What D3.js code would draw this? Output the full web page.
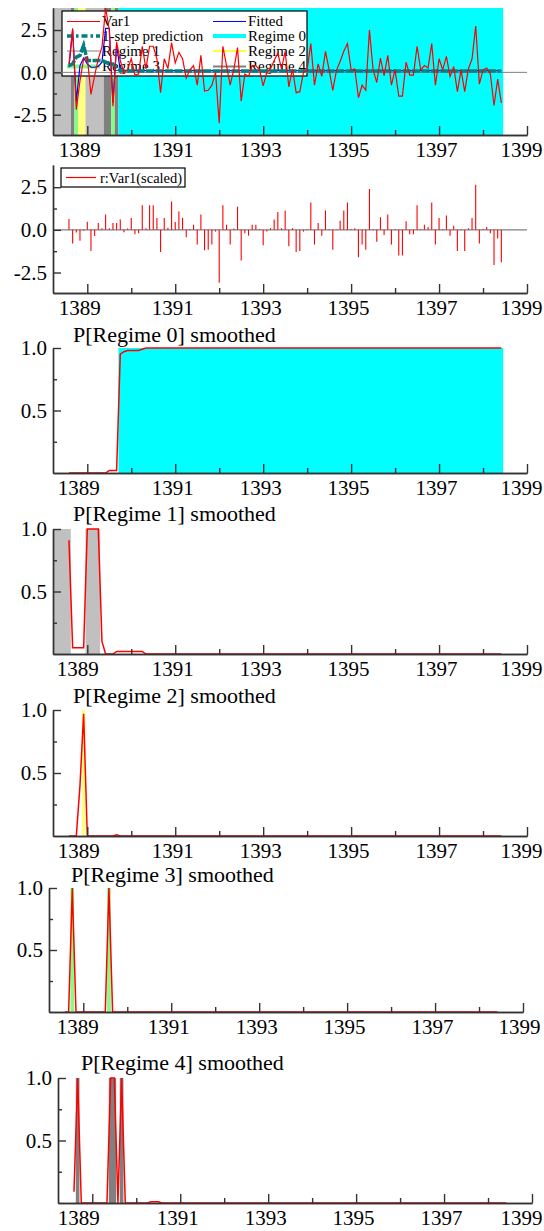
<!DOCTYPE html>
<html>
<head>
<meta charset="utf-8">
<script src="https://cdn.jsdelivr.net/npm/d3@7.9.0/dist/d3.min.js"></script>
<style>
  body { margin: 0; background: #fff; }
  svg { display: block; }
  text { font-family: "Liberation Serif", "Times New Roman", serif; fill: #000; }
  .axis text { font-size: 21px; font-family: "Liberation Serif", "Times New Roman", serif; }
  .axis path, .axis line { stroke: #333; stroke-width: 1.4; }
</style>
</head>
<body>
<svg id="chart" width="544" height="1231"></svg>
<script>
// monthly sample 1388(8) - 1398(6), one row per year
const firstYear = 1388;
const firstMonth = 8;

const var1 = [
  0.5, 2.6, -2.2, -0.5, 0.8,
  0.9, -1.3, -0.2, 0.8, 1.5, 3.8, 2.5, -2.0, 1.8, 0.7, -0.04, 0.18,
  0.8, -0.16, -0.1, 1.54, 0.2, 1.54, 1.54, 0.8, -1.2, 0.8, 0.22, 1.76,
  0.56, 1.18, 0.8, -0.34, 0.15, 0.4, -0.76, 1.0, -1.1, -1.06, -0.76, 0.0,
  -3.0, 1.54, 0.4, -0.76, 0.18, 1.46, -1.7, -0.1, -0.24, 0.4, 0.4, 0.15,
  -0.8, 0.0, 0.2, 0.7, 1.14, 0.2, 1.24, -0.86, 0.2, -1.2, -1.14, 0.0,
  0.15, 1.7, -0.76, 0.5, -0.24, 1.24, 0.15, -1.06, 0.12, 0.64, 1.24, 1.7,
  0.15, 0.2, -1.5, -0.76, -1.06, 2.5, 0.15, -0.6, 0.84, -0.2, 1.0, -0.76,
  0.15, -1.4, -1.4, 0.6, -0.16, -0.16, 1.54, 0.15, 0.4, 0.26, 1.7, -0.76,
  0.8, 0.15, 0.94, -0.24, 0.34, -1.14, 0.15, -1.14, 0.2, 0.8, 2.74, -0.7,
  0.15, 0.26, -0.1, -1.96, -0.4, -1.8
];

const fitted = [
  0.3, 2.5, -1.7, 0.4, 0.85,
  0.5, 0.3, 0.3, 0.35, 0.6, 2.6, 2.6, -1.8, 1.6, 0.1, 0.1, 0.1,
  0.1, 0.1, 0.1, 0.1, 0.1, 0.1, 0.1, 0.1, 0.1, 0.1, 0.1, 0.1,
  0.1, 0.1, 0.1, 0.1, 0.1, 0.1, 0.1, 0.1, 0.1, 0.1, 0.1, 0.1,
  0.1, 0.1, 0.1, 0.1, 0.1, 0.1, 0.1, 0.1, 0.1, 0.1, 0.1, 0.1,
  0.1, 0.1, 0.1, 0.1, 0.1, 0.1, 0.1, 0.1, 0.1, 0.1, 0.1, 0.1,
  0.1, 0.1, 0.1, 0.1, 0.1, 0.1, 0.1, 0.1, 0.1, 0.1, 0.1, 0.1,
  0.1, 0.1, 0.1, 0.1, 0.1, 0.1, 0.1, 0.1, 0.1, 0.1, 0.1, 0.1,
  0.1, 0.1, 0.1, 0.1, 0.1, 0.1, 0.1, 0.1, 0.1, 0.1, 0.1, 0.1,
  0.1, 0.1, 0.1, 0.1, 0.1, 0.1, 0.1, 0.1, 0.1, 0.1, 0.1, 0.1,
  0.1, 0.1, 0.1, 0.1, 0.1, 0.1
];

const prediction = [
  0.4, 0.5, 0.9, 1.0, 1.6,
  0.7, 0.7, 0.7, 0.7, 0.7, 0.6, 0.5, 0.5, 0.25, 0.1, 0.08, 0.08,
  0.08, 0.08, 0.08, 0.08, 0.08, 0.08, 0.08, 0.08, 0.08, 0.08, 0.08, 0.08,
  0.08, 0.08, 0.08, 0.08, 0.08, 0.08, 0.08, 0.08, 0.08, 0.08, 0.08, 0.08,
  0.08, 0.08, 0.08, 0.08, 0.08, 0.08, 0.08, 0.08, 0.08, 0.08, 0.08, 0.08,
  0.08, 0.08, 0.08, 0.08, 0.08, 0.08, 0.08, 0.08, 0.08, 0.08, 0.08, 0.08,
  0.08, 0.08, 0.08, 0.08, 0.08, 0.08, 0.08, 0.08, 0.08, 0.08, 0.08, 0.08,
  0.08, 0.08, 0.08, 0.08, 0.08, 0.08, 0.08, 0.08, 0.08, 0.08, 0.08, 0.08,
  0.08, 0.08, 0.08, 0.08, 0.08, 0.08, 0.08, 0.08, 0.08, 0.08, 0.08, 0.08,
  0.08, 0.08, 0.08, 0.08, 0.08, 0.08, 0.08, 0.08, 0.08, 0.08, 0.08, 0.08,
  0.08, 0.08, 0.08, 0.08, 0.08, 0.08
];

const residScaled = [
  0.64, -0.8, -0.15, -0.64, -0.05,
  0.48, -1.24, -0.36, 0.4, 0.1, 0.9, 0.1, 0.4, 0.4, 0.6, -0.14, 0.08,
  0.7, -0.26, -0.2, 1.44, 0.1, 1.44, 1.44, 0.7, -1.3, 0.7, 0.12, 1.66,
  0.46, 1.08, 0.7, -0.44, 0.05, 0.3, -0.86, 0.9, -1.2, -1.16, -0.86, -0.1,
  -3.1, 1.44, 0.3, -0.86, 0.08, 1.36, -1.8, -0.2, -0.34, 0.3, 0.3, 0.05,
  -0.9, -0.1, 0.1, 0.6, 1.04, 0.1, 1.14, -0.96, 0.1, -1.3, -1.24, -0.1,
  0.05, 1.6, -0.86, 0.4, -0.34, 1.14, 0.05, -1.16, 0.02, 0.54, 1.14, 1.6,
  0.05, 0.1, -1.6, -0.86, -1.16, 2.4, 0.05, -0.7, 0.74, -0.3, 0.9, -0.86,
  0.05, -1.5, -1.5, 0.5, -0.26, -0.26, 1.44, 0.05, 0.3, 0.16, 1.6, -0.86,
  0.7, 0.05, 0.84, -0.34, 0.24, -1.24, 0.05, -1.24, 0.1, 0.7, 2.64, -0.8,
  0.05, 0.16, -0.2, -2.06, -0.5, -1.9
];

// smoothed regime probabilities
const pRegime0 = [
  0, 0, 0, 0, 0,
  0, 0, 0, 0, 0, 0, 0.02, 0.02, 0.02, 0.95, 0.97, 0.98,
  0.98, 0.98, 0.98, 0.99, 1, 1, 1, 1, 1, 1, 1, 1,
  1, 1, 1, 1, 1, 1, 1, 1, 1, 1, 1, 1,
  1, 1, 1, 1, 1, 1, 1, 1, 1, 1, 1, 1,
  1, 1, 1, 1, 1, 1, 1, 1, 1, 1, 1, 1,
  1, 1, 1, 1, 1, 1, 1, 1, 1, 1, 1, 1,
  1, 1, 1, 1, 1, 1, 1, 1, 1, 1, 1, 1,
  1, 1, 1, 1, 1, 1, 1, 1, 1, 1, 1, 1,
  1, 1, 1, 1, 1, 1, 1, 1, 1, 1, 1, 1,
  1, 1, 1, 1, 1, 1
];
const pRegime1 = [
  0.91, 0.05, 0.05, 0.05, 0.05,
  1, 1, 1, 1, 0.1, 0, 0, 0, 0.02, 0.02, 0.02, 0.02,
  0.02, 0.02, 0.02, 0.02, 0, 0, 0, 0, 0, 0, 0, 0,
  0, 0, 0, 0, 0, 0, 0, 0, 0, 0, 0, 0,
  0, 0, 0, 0, 0, 0, 0, 0, 0, 0, 0, 0,
  0, 0, 0, 0, 0, 0, 0, 0, 0, 0, 0, 0,
  0, 0, 0, 0, 0, 0, 0, 0, 0, 0, 0, 0,
  0, 0, 0, 0, 0, 0, 0, 0, 0, 0, 0, 0,
  0, 0, 0, 0, 0, 0, 0, 0, 0, 0, 0, 0,
  0, 0, 0, 0, 0, 0, 0, 0, 0, 0, 0, 0,
  0, 0, 0, 0, 0, 0
];
const pRegime2 = [
  0, 0, 0, 0.4, 0.97,
  0, 0, 0, 0, 0, 0, 0, 0, 0.01, 0, 0, 0,
  0, 0, 0, 0, 0, 0, 0, 0, 0, 0, 0, 0,
  0, 0, 0, 0, 0, 0, 0, 0, 0, 0, 0, 0,
  0, 0, 0, 0, 0, 0, 0, 0, 0, 0, 0, 0,
  0, 0, 0, 0, 0, 0, 0, 0, 0, 0, 0, 0,
  0, 0, 0, 0, 0, 0, 0, 0, 0, 0, 0, 0,
  0, 0, 0, 0, 0, 0, 0, 0, 0, 0, 0, 0,
  0, 0, 0, 0, 0, 0, 0, 0, 0, 0, 0, 0,
  0, 0, 0, 0, 0, 0, 0, 0, 0, 0, 0, 0,
  0, 0, 0, 0, 0, 0
];
const pRegime3 = [
  0, 0, 1, 0, 0,
  0, 0, 0, 0, 0, 0, 0, 1, 0, 0, 0, 0,
  0, 0, 0, 0, 0, 0, 0, 0, 0, 0, 0, 0,
  0, 0, 0, 0, 0, 0, 0, 0, 0, 0, 0, 0,
  0, 0, 0, 0, 0, 0, 0, 0, 0, 0, 0, 0,
  0, 0, 0, 0, 0, 0, 0, 0, 0, 0, 0, 0,
  0, 0, 0, 0, 0, 0, 0, 0, 0, 0, 0, 0,
  0, 0, 0, 0, 0, 0, 0, 0, 0, 0, 0, 0,
  0, 0, 0, 0, 0, 0, 0, 0, 0, 0, 0, 0,
  0, 0, 0, 0, 0, 0, 0, 0, 0, 0, 0, 0,
  0, 0, 0, 0, 0, 0
];
const pRegime4 = [
  0.09, 1, 0, 0, 0,
  0, 0, 0, 0, 0, 1, 1, 0, 1, 0, 0, 0,
  0, 0, 0, 0, 0.01, 0.01, 0.01, 0, 0, 0, 0, 0,
  0, 0, 0, 0, 0, 0, 0, 0, 0, 0, 0, 0,
  0, 0, 0, 0, 0, 0, 0, 0, 0, 0, 0, 0,
  0, 0, 0, 0, 0, 0, 0, 0, 0, 0, 0, 0,
  0, 0, 0, 0, 0, 0, 0, 0, 0, 0, 0, 0,
  0, 0, 0, 0, 0, 0, 0, 0, 0, 0, 0, 0,
  0, 0, 0, 0, 0, 0, 0, 0, 0, 0, 0, 0,
  0, 0, 0, 0, 0, 0, 0, 0, 0, 0, 0, 0,
  0, 0, 0, 0, 0, 0
];

const regimeNames = ['Regime 0', 'Regime 1', 'Regime 2', 'Regime 3', 'Regime 4'];
const regimeFill = ['#00ffff', '#c0c0c0', '#ffff80', '#80ff80', '#808080'];
const yearMajor = [1389, 1391, 1393, 1395, 1397, 1399];
const yearMinor = [1390, 1392, 1394, 1396, 1398];

const probs = [pRegime0, pRegime1, pRegime2, pRegime3, pRegime4];
const dates = var1.map((_, i) => firstYear + (firstMonth - 1 + i) / 12);

const svg = d3.select('#chart');

// panel boxes (layout only); lab1 = shift of the first year label
const panels = [
  { top: 8, bottom: 135, dx: 0, lab1: -8 },
  { top: 165, bottom: 293, dx: 0, lab1: -8 },
  { top: 348, bottom: 473, dx: 0, lab1: -9, title: 342 },
  { top: 529, bottom: 654, dx: 0, lab1: -10, title: 521 },
  { top: 710, bottom: 836, dx: 0, lab1: -9, title: 703 },
  { top: 888, bottom: 1012, dx: -4, lab1: -6, title: 882 },
  { top: 1078, bottom: 1203, dx: 5, lab1: -14, title: 1070 },
];

function makeX(dx) {
  return d3.scaleLinear().domain([1388.22, 1399]).range([53 + dx, 527 + dx]);
}

function drawXAxis(x, y0, lab1) {
  const g = svg.append('g').attr('class', 'axis');
  g.append('g').attr('transform', `translate(0,${y0})`)
    .call(d3.axisBottom(x).tickValues(yearMinor).tickSize(-5).tickSizeOuter(0).tickFormat(''));
  g.append('g').attr('transform', `translate(0,${y0})`)
    .call(d3.axisBottom(x).tickValues(yearMajor).tickSize(-9).tickSizeOuter(0).tickPadding(7).tickFormat(d => d))
    .selectAll('text').attr('dx', d => {
      if (d === yearMajor[0]) return lab1;
      if (d === yearMajor[yearMajor.length - 1]) return Math.min(-4, 521 - x(d));
      return -3;
    });
}

function drawYAxis(x0, y, major, minor, fmt) {
  const g = svg.append('g').attr('class', 'axis').attr('transform', `translate(${x0},0)`);
  g.append('g').call(d3.axisLeft(y).tickValues(minor).tickSize(-4).tickSizeOuter(0).tickFormat(''));
  g.append('g').call(d3.axisLeft(y).tickValues(major).tickSize(-8).tickSizeOuter(0).tickPadding(6).tickFormat(fmt));
}

// contiguous bands of observations belonging to a regime
function bands(flags, x) {
  const half = (x(dates[1]) - x(dates[0])) / 2;
  const out = [];
  flags.forEach((on, i) => {
    if (!on) return;
    const x0 = i === 0 ? x.range()[0] : x(dates[i]) - half;
    const x1 = x(dates[i]) + half;
    const last = out[out.length - 1];
    if (last && last.end === i - 1 && last.k === on.k) { last.x1 = x1; last.end = i; }
    else out.push({ k: on.k, x0, x1, end: i });
  });
  return out;
}

const fmt1 = d => d.toFixed(1);

// ---- panel 1: actual, fitted, prediction with regime shading
{
  const p = panels[0];
  const x = makeX(p.dx);
  const y = d3.scaleLinear().domain([-3.7, 3.8]).range([p.bottom, p.top]);
  const cls = dates.map((_, i) => ({ k: d3.maxIndex(probs, pr => pr[i]) }));
  svg.append('g').selectAll('rect').data(bands(cls, x)).join('rect')
    .attr('x', d => d.x0).attr('width', d => d.x1 - d.x0)
    .attr('y', p.top).attr('height', p.bottom - p.top)
    .attr('fill', d => regimeFill[d.k]);

  // legend box
  const lg = svg.append('g');
  lg.append('rect').attr('x', 62).attr('y', 11).attr('width', 245).attr('height', 65)
    .attr('fill', '#fff').attr('stroke', '#000').attr('stroke-width', 1.2);
  const items = [
    { label: 'Var1', col: 0, row: 0, stroke: '#ff0000', w: 1.2 },
    { label: 'Fitted', col: 1, row: 0, stroke: '#0000ff', w: 1.2 },
    { label: '1-step prediction', col: 0, row: 1, stroke: '#008080', w: 3.5, dash: '6,3,2.5,3' },
    { label: regimeNames[0], col: 1, row: 1, stroke: regimeFill[0], w: 4 },
    { label: regimeNames[1], col: 0, row: 2, stroke: regimeFill[1], w: 2 },
    { label: regimeNames[2], col: 1, row: 2, stroke: '#ffff00', w: 1.5 },
    { label: regimeNames[3], col: 0, row: 3, stroke: regimeFill[3], w: 4 },
    { label: regimeNames[4], col: 1, row: 3, stroke: regimeFill[4], w: 2 },
  ];
  const rowY = [26, 40.5, 55.5, 71];
  const colX = [67, 213];
  items.forEach(it => {
    const ly = rowY[it.row] - 4.5;
    lg.append('line').attr('x1', colX[it.col]).attr('x2', colX[it.col] + 33)
      .attr('y1', ly).attr('y2', ly)
      .attr('stroke', it.stroke).attr('stroke-width', it.w)
      .attr('stroke-dasharray', it.dash || null);
    lg.append('text').attr('x', colX[it.col] + 35).attr('y', rowY[it.row])
      .attr('font-size', 15).text(it.label);
  });

  svg.append('line').attr('x1', x.range()[0]).attr('x2', x.range()[1])
    .attr('y1', y(0)).attr('y2', y(0)).attr('stroke', '#808080').attr('stroke-width', 1);

  const line = d3.line().x((d, i) => x(dates[i])).y(d => y(d));
  svg.append('path').attr('d', line(fitted)).attr('fill', 'none')
    .attr('stroke', '#0000ff').attr('stroke-width', 1.2);
  svg.append('path').attr('d', line(prediction)).attr('fill', 'none')
    .attr('stroke', '#008080').attr('stroke-width', 3.5).attr('stroke-dasharray', '8,1.5');
  svg.append('path').attr('d', line(var1)).attr('fill', 'none')
    .attr('stroke', '#ff0000').attr('stroke-width', 1.2);

  drawYAxis(x.range()[0], y, [-2.5, 0, 2.5], [-1.25, 1.25], fmt1);
  drawXAxis(x, p.bottom, p.lab1);
}

// ---- panel 2: scaled residuals
{
  const p = panels[1];
  const x = makeX(p.dx);
  const y = d3.scaleLinear().domain([-3.7, 3.8]).range([p.bottom, p.top]);
  svg.append('line').attr('x1', x.range()[0]).attr('x2', x.range()[1])
    .attr('y1', y(0)).attr('y2', y(0)).attr('stroke', '#808080').attr('stroke-width', 1.2);
  svg.append('g').selectAll('line').data(residScaled).join('line')
    .attr('x1', (d, i) => x(dates[i])).attr('x2', (d, i) => x(dates[i]))
    .attr('y1', y(0)).attr('y2', d => y(d))
    .attr('stroke', '#ff0000').attr('stroke-width', 1.1);

  svg.append('rect').attr('x', 61).attr('y', 168).attr('width', 124).attr('height', 19)
    .attr('fill', '#fff').attr('stroke', '#000').attr('stroke-width', 1.2);
  svg.append('line').attr('x1', 66).attr('x2', 96).attr('y1', 177.5).attr('y2', 177.5)
    .attr('stroke', '#ff0000').attr('stroke-width', 1.2);
  svg.append('text').attr('x', 100).attr('y', 183).attr('font-size', 14.5).text('r:Var1(scaled)');

  drawYAxis(x.range()[0], y, [-2.5, 0, 2.5], [-1.25, 1.25], fmt1);
  drawXAxis(x, p.bottom, p.lab1);
}

// ---- panels 3-7: smoothed regime probabilities
probs.forEach((pr, k) => {
  const p = panels[k + 2];
  const x = makeX(p.dx);
  const y = d3.scaleLinear().domain([0, 1]).range([p.bottom, p.top]);
  const flags = pr.map(v => v > 0.5 ? { k } : null);
  svg.append('g').selectAll('rect').data(bands(flags, x)).join('rect')
    .attr('x', d => d.x0).attr('width', d => d.x1 - d.x0)
    .attr('y', p.top).attr('height', p.bottom - p.top)
    .attr('fill', regimeFill[k]);
  svg.append('path')
    .attr('d', d3.line().x((d, i) => x(dates[i])).y(d => y(d))(pr))
    .attr('fill', 'none').attr('stroke', '#ff0000').attr('stroke-width', 1.5);
  svg.append('text').attr('x', 73 + (p.dx > 0 ? 8 : p.dx < 0 ? -2 : 0)).attr('y', p.title)
    .attr('font-size', 22).text(`P[${regimeNames[k]}] smoothed`);
  drawYAxis(x.range()[0], y, [0.5, 1], [0.25, 0.75], fmt1);
  drawXAxis(x, p.bottom, p.lab1);
});
</script>
</body>
</html>
